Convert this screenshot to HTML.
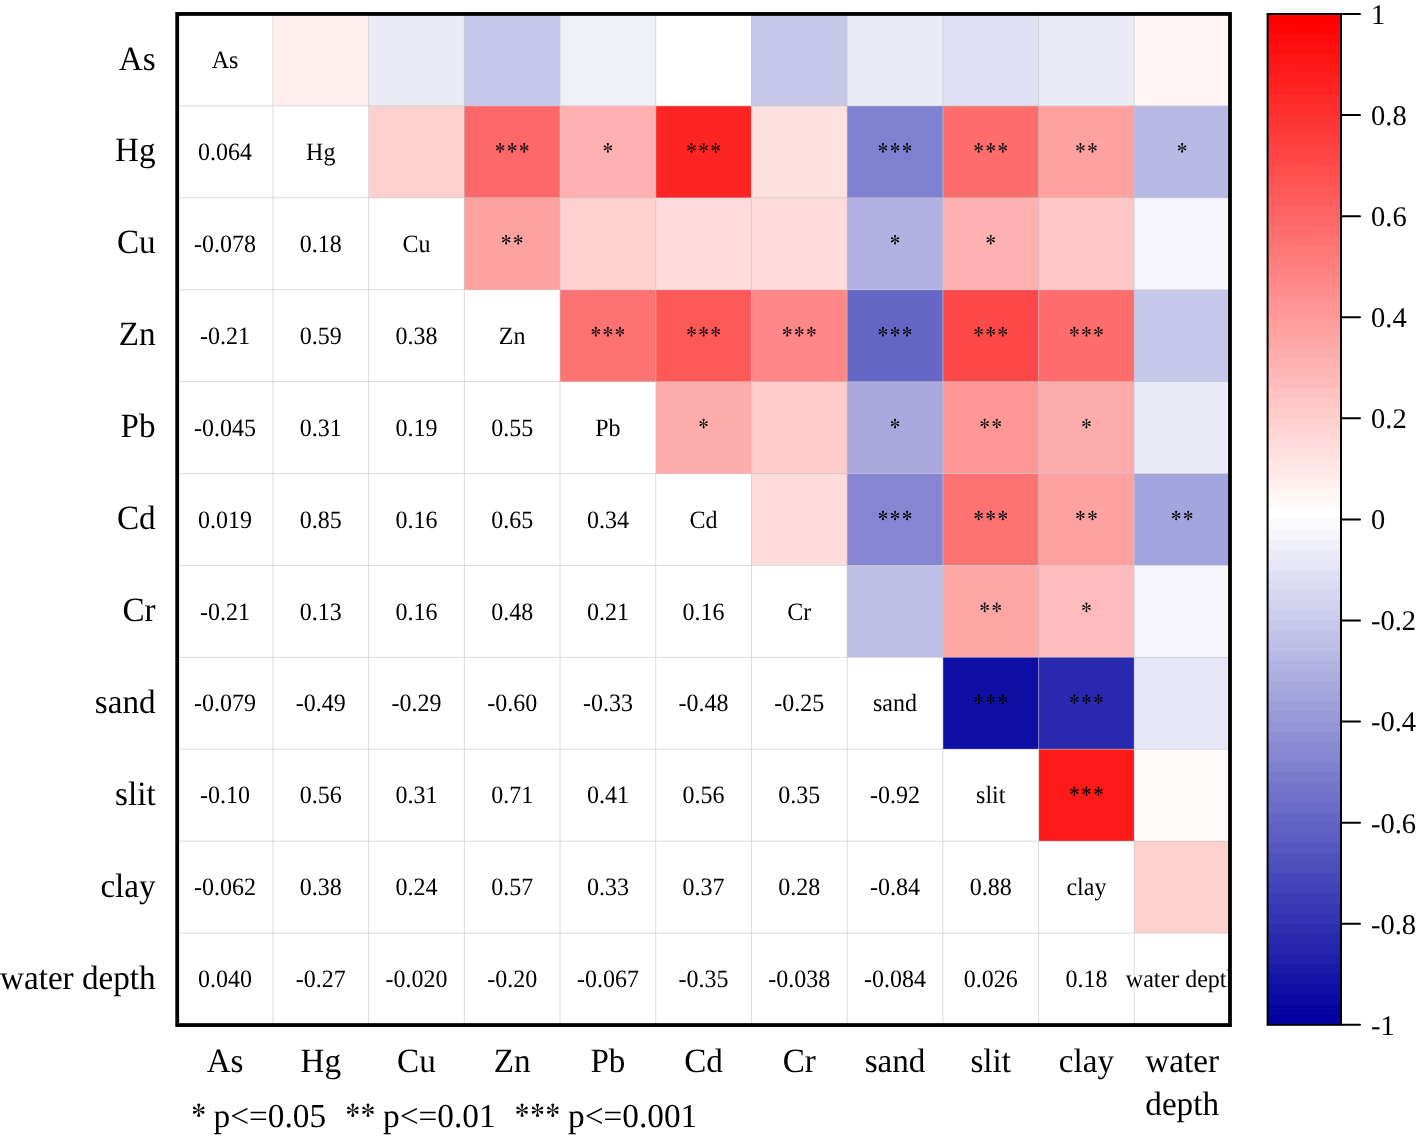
<!DOCTYPE html>
<html><head><meta charset="utf-8"><style>
html,body{margin:0;padding:0;background:#fff;}
body{width:1417px;height:1137px;overflow:hidden;}
svg{display:block;}
text{font-family:"Liberation Serif", serif;fill:#000;text-rendering:geometricPrecision;}
#wrap{position:absolute;left:0;top:0;will-change:transform;}
</style></head><body>
<div id="wrap"><svg width="1417" height="1137" viewBox="0 0 1417 1137">
<defs><g id="arm"><path d="M 3.5,0 C 6,-30 13,-52 19,-70 A 20.5 20.5 0 1 0 -19,-70 C -13,-52 -6,-30 -3.5,0 Z"/></g>
<g id="ast"><use href="#arm"/><use href="#arm" transform="rotate(180)"/><use href="#arm" transform="rotate(64) scale(0.93)"/><use href="#arm" transform="rotate(116) scale(0.93)"/><use href="#arm" transform="rotate(-64) scale(0.93)"/><use href="#arm" transform="rotate(-116) scale(0.93)"/><circle r="6"/></g>
<clipPath id="pc"><rect x="177.20" y="13.95" width="1052.80" height="1011.10"/></clipPath></defs>

<g shape-rendering="crispEdges">
<rect x="272.91" y="13.95" width="95.71" height="91.92" fill="#ffefef"/>
<rect x="368.62" y="13.95" width="95.71" height="91.92" fill="#ebebf7"/>
<rect x="464.33" y="13.95" width="95.71" height="91.92" fill="#c7c7ea"/>
<rect x="560.04" y="13.95" width="95.71" height="91.92" fill="#f0f0f9"/>
<rect x="655.75" y="13.95" width="95.71" height="91.92" fill="#ffffff"/>
<rect x="751.45" y="13.95" width="95.71" height="91.92" fill="#c7c7ea"/>
<rect x="847.16" y="13.95" width="95.71" height="91.92" fill="#ebebf7"/>
<rect x="942.87" y="13.95" width="95.71" height="91.92" fill="#e0e0f4"/>
<rect x="1038.58" y="13.95" width="95.71" height="91.92" fill="#ebebf7"/>
<rect x="1134.29" y="13.95" width="95.71" height="91.92" fill="#fff5f5"/>
<rect x="368.62" y="105.87" width="95.71" height="91.92" fill="#ffd0d0"/>
<rect x="464.33" y="105.87" width="95.71" height="91.92" fill="#ff6868"/>
<rect x="560.04" y="105.87" width="95.71" height="91.92" fill="#ffb1b1"/>
<rect x="655.75" y="105.87" width="95.71" height="91.92" fill="#ff2424"/>
<rect x="751.45" y="105.87" width="95.71" height="91.92" fill="#ffe0e0"/>
<rect x="847.16" y="105.87" width="95.71" height="91.92" fill="#8080d0"/>
<rect x="942.87" y="105.87" width="95.71" height="91.92" fill="#ff6d6d"/>
<rect x="1038.58" y="105.87" width="95.71" height="91.92" fill="#ffa1a1"/>
<rect x="1134.29" y="105.87" width="95.71" height="91.92" fill="#b8b8e4"/>
<rect x="464.33" y="197.79" width="95.71" height="91.92" fill="#ffa1a1"/>
<rect x="560.04" y="197.79" width="95.71" height="91.92" fill="#ffd0d0"/>
<rect x="655.75" y="197.79" width="95.71" height="91.92" fill="#ffdbdb"/>
<rect x="751.45" y="197.79" width="95.71" height="91.92" fill="#ffdbdb"/>
<rect x="847.16" y="197.79" width="95.71" height="91.92" fill="#b2b2e2"/>
<rect x="942.87" y="197.79" width="95.71" height="91.92" fill="#ffb1b1"/>
<rect x="1038.58" y="197.79" width="95.71" height="91.92" fill="#ffc6c6"/>
<rect x="1134.29" y="197.79" width="95.71" height="91.92" fill="#f5f5fb"/>
<rect x="560.04" y="289.70" width="95.71" height="91.92" fill="#ff7272"/>
<rect x="655.75" y="289.70" width="95.71" height="91.92" fill="#ff5858"/>
<rect x="751.45" y="289.70" width="95.71" height="91.92" fill="#ff8787"/>
<rect x="847.16" y="289.70" width="95.71" height="91.92" fill="#6666c6"/>
<rect x="942.87" y="289.70" width="95.71" height="91.92" fill="#ff4949"/>
<rect x="1038.58" y="289.70" width="95.71" height="91.92" fill="#ff6d6d"/>
<rect x="1134.29" y="289.70" width="95.71" height="91.92" fill="#c7c7ea"/>
<rect x="655.75" y="381.62" width="95.71" height="91.92" fill="#ffacac"/>
<rect x="751.45" y="381.62" width="95.71" height="91.92" fill="#ffcbcb"/>
<rect x="847.16" y="381.62" width="95.71" height="91.92" fill="#a8a8df"/>
<rect x="942.87" y="381.62" width="95.71" height="91.92" fill="#ff9797"/>
<rect x="1038.58" y="381.62" width="95.71" height="91.92" fill="#ffacac"/>
<rect x="1134.29" y="381.62" width="95.71" height="91.92" fill="#ebebf7"/>
<rect x="751.45" y="473.54" width="95.71" height="91.92" fill="#ffdbdb"/>
<rect x="847.16" y="473.54" width="95.71" height="91.92" fill="#8585d1"/>
<rect x="942.87" y="473.54" width="95.71" height="91.92" fill="#ff7272"/>
<rect x="1038.58" y="473.54" width="95.71" height="91.92" fill="#ffa1a1"/>
<rect x="1134.29" y="473.54" width="95.71" height="91.92" fill="#a3a3dd"/>
<rect x="847.16" y="565.46" width="95.71" height="91.92" fill="#bdbde6"/>
<rect x="942.87" y="565.46" width="95.71" height="91.92" fill="#ffa7a7"/>
<rect x="1038.58" y="565.46" width="95.71" height="91.92" fill="#ffbbbb"/>
<rect x="1134.29" y="565.46" width="95.71" height="91.92" fill="#f5f5fb"/>
<rect x="942.87" y="657.38" width="95.71" height="91.92" fill="#0f0fa6"/>
<rect x="1038.58" y="657.38" width="95.71" height="91.92" fill="#2929af"/>
<rect x="1134.29" y="657.38" width="95.71" height="91.92" fill="#e6e6f6"/>
<rect x="1038.58" y="749.30" width="95.71" height="91.92" fill="#ff1a1a"/>
<rect x="1134.29" y="749.30" width="95.71" height="91.92" fill="#fffafa"/>
<rect x="1134.29" y="841.21" width="95.71" height="91.92" fill="#ffd0d0"/>
</g>
<line x1="272.91" y1="13.95" x2="272.91" y2="1025.05" stroke="#c8c8c8" stroke-width="1" stroke-opacity="0.65"/>
<line x1="177.20" y1="105.87" x2="1230.00" y2="105.87" stroke="#c8c8c8" stroke-width="1" stroke-opacity="0.65"/>
<line x1="368.62" y1="13.95" x2="368.62" y2="1025.05" stroke="#c8c8c8" stroke-width="1" stroke-opacity="0.65"/>
<line x1="177.20" y1="197.79" x2="1230.00" y2="197.79" stroke="#c8c8c8" stroke-width="1" stroke-opacity="0.65"/>
<line x1="464.33" y1="13.95" x2="464.33" y2="1025.05" stroke="#c8c8c8" stroke-width="1" stroke-opacity="0.65"/>
<line x1="177.20" y1="289.70" x2="1230.00" y2="289.70" stroke="#c8c8c8" stroke-width="1" stroke-opacity="0.65"/>
<line x1="560.04" y1="13.95" x2="560.04" y2="1025.05" stroke="#c8c8c8" stroke-width="1" stroke-opacity="0.65"/>
<line x1="177.20" y1="381.62" x2="1230.00" y2="381.62" stroke="#c8c8c8" stroke-width="1" stroke-opacity="0.65"/>
<line x1="655.75" y1="13.95" x2="655.75" y2="1025.05" stroke="#c8c8c8" stroke-width="1" stroke-opacity="0.65"/>
<line x1="177.20" y1="473.54" x2="1230.00" y2="473.54" stroke="#c8c8c8" stroke-width="1" stroke-opacity="0.65"/>
<line x1="751.45" y1="13.95" x2="751.45" y2="1025.05" stroke="#c8c8c8" stroke-width="1" stroke-opacity="0.65"/>
<line x1="177.20" y1="565.46" x2="1230.00" y2="565.46" stroke="#c8c8c8" stroke-width="1" stroke-opacity="0.65"/>
<line x1="847.16" y1="13.95" x2="847.16" y2="1025.05" stroke="#c8c8c8" stroke-width="1" stroke-opacity="0.65"/>
<line x1="177.20" y1="657.38" x2="1230.00" y2="657.38" stroke="#c8c8c8" stroke-width="1" stroke-opacity="0.65"/>
<line x1="942.87" y1="13.95" x2="942.87" y2="1025.05" stroke="#c8c8c8" stroke-width="1" stroke-opacity="0.65"/>
<line x1="177.20" y1="749.30" x2="1230.00" y2="749.30" stroke="#c8c8c8" stroke-width="1" stroke-opacity="0.65"/>
<line x1="1038.58" y1="13.95" x2="1038.58" y2="1025.05" stroke="#c8c8c8" stroke-width="1" stroke-opacity="0.65"/>
<line x1="177.20" y1="841.21" x2="1230.00" y2="841.21" stroke="#c8c8c8" stroke-width="1" stroke-opacity="0.65"/>
<line x1="1134.29" y1="13.95" x2="1134.29" y2="1025.05" stroke="#c8c8c8" stroke-width="1" stroke-opacity="0.65"/>
<line x1="177.20" y1="933.13" x2="1230.00" y2="933.13" stroke="#c8c8c8" stroke-width="1" stroke-opacity="0.65"/>
<g clip-path="url(#pc)">
<text transform="translate(225.05,68.01) scale(0.96,1)" font-size="25" text-anchor="middle">As</text>
<text transform="translate(225.05,159.93) scale(0.96,1)" font-size="25" text-anchor="middle">0.064</text>
<text transform="translate(320.76,159.93) scale(0.96,1)" font-size="25" text-anchor="middle">Hg</text>
<use href="#ast" transform="translate(500.11,147.83) scale(0.0495)"/>
<use href="#ast" transform="translate(512.18,147.83) scale(0.0495)"/>
<use href="#ast" transform="translate(524.25,147.83) scale(0.0495)"/>
<use href="#ast" transform="translate(607.89,147.83) scale(0.0495)"/>
<use href="#ast" transform="translate(691.53,147.83) scale(0.0495)"/>
<use href="#ast" transform="translate(703.60,147.83) scale(0.0495)"/>
<use href="#ast" transform="translate(715.67,147.83) scale(0.0495)"/>
<use href="#ast" transform="translate(882.95,147.83) scale(0.0495)"/>
<use href="#ast" transform="translate(895.02,147.83) scale(0.0495)"/>
<use href="#ast" transform="translate(907.09,147.83) scale(0.0495)"/>
<use href="#ast" transform="translate(978.66,147.83) scale(0.0495)"/>
<use href="#ast" transform="translate(990.73,147.83) scale(0.0495)"/>
<use href="#ast" transform="translate(1002.80,147.83) scale(0.0495)"/>
<use href="#ast" transform="translate(1080.40,147.83) scale(0.0495)"/>
<use href="#ast" transform="translate(1092.47,147.83) scale(0.0495)"/>
<use href="#ast" transform="translate(1182.15,147.83) scale(0.0495)"/>
<text transform="translate(225.05,251.85) scale(0.96,1)" font-size="25" text-anchor="middle">-0.078</text>
<text transform="translate(320.76,251.85) scale(0.96,1)" font-size="25" text-anchor="middle">0.18</text>
<text transform="translate(416.47,251.85) scale(0.96,1)" font-size="25" text-anchor="middle">Cu</text>
<use href="#ast" transform="translate(506.15,239.75) scale(0.0495)"/>
<use href="#ast" transform="translate(518.22,239.75) scale(0.0495)"/>
<use href="#ast" transform="translate(895.02,239.75) scale(0.0495)"/>
<use href="#ast" transform="translate(990.73,239.75) scale(0.0495)"/>
<text transform="translate(225.05,343.76) scale(0.96,1)" font-size="25" text-anchor="middle">-0.21</text>
<text transform="translate(320.76,343.76) scale(0.96,1)" font-size="25" text-anchor="middle">0.59</text>
<text transform="translate(416.47,343.76) scale(0.96,1)" font-size="25" text-anchor="middle">0.38</text>
<text transform="translate(512.18,343.76) scale(0.96,1)" font-size="25" text-anchor="middle">Zn</text>
<use href="#ast" transform="translate(595.82,331.66) scale(0.0495)"/>
<use href="#ast" transform="translate(607.89,331.66) scale(0.0495)"/>
<use href="#ast" transform="translate(619.96,331.66) scale(0.0495)"/>
<use href="#ast" transform="translate(691.53,331.66) scale(0.0495)"/>
<use href="#ast" transform="translate(703.60,331.66) scale(0.0495)"/>
<use href="#ast" transform="translate(715.67,331.66) scale(0.0495)"/>
<use href="#ast" transform="translate(787.24,331.66) scale(0.0495)"/>
<use href="#ast" transform="translate(799.31,331.66) scale(0.0495)"/>
<use href="#ast" transform="translate(811.38,331.66) scale(0.0495)"/>
<use href="#ast" transform="translate(882.95,331.66) scale(0.0495)"/>
<use href="#ast" transform="translate(895.02,331.66) scale(0.0495)"/>
<use href="#ast" transform="translate(907.09,331.66) scale(0.0495)"/>
<use href="#ast" transform="translate(978.66,331.66) scale(0.0495)"/>
<use href="#ast" transform="translate(990.73,331.66) scale(0.0495)"/>
<use href="#ast" transform="translate(1002.80,331.66) scale(0.0495)"/>
<use href="#ast" transform="translate(1074.37,331.66) scale(0.0495)"/>
<use href="#ast" transform="translate(1086.44,331.66) scale(0.0495)"/>
<use href="#ast" transform="translate(1098.51,331.66) scale(0.0495)"/>
<text transform="translate(225.05,435.68) scale(0.96,1)" font-size="25" text-anchor="middle">-0.045</text>
<text transform="translate(320.76,435.68) scale(0.96,1)" font-size="25" text-anchor="middle">0.31</text>
<text transform="translate(416.47,435.68) scale(0.96,1)" font-size="25" text-anchor="middle">0.19</text>
<text transform="translate(512.18,435.68) scale(0.96,1)" font-size="25" text-anchor="middle">0.55</text>
<text transform="translate(607.89,435.68) scale(0.96,1)" font-size="25" text-anchor="middle">Pb</text>
<use href="#ast" transform="translate(703.60,423.58) scale(0.0495)"/>
<use href="#ast" transform="translate(895.02,423.58) scale(0.0495)"/>
<use href="#ast" transform="translate(984.69,423.58) scale(0.0495)"/>
<use href="#ast" transform="translate(996.76,423.58) scale(0.0495)"/>
<use href="#ast" transform="translate(1086.44,423.58) scale(0.0495)"/>
<text transform="translate(225.05,527.60) scale(0.96,1)" font-size="25" text-anchor="middle">0.019</text>
<text transform="translate(320.76,527.60) scale(0.96,1)" font-size="25" text-anchor="middle">0.85</text>
<text transform="translate(416.47,527.60) scale(0.96,1)" font-size="25" text-anchor="middle">0.16</text>
<text transform="translate(512.18,527.60) scale(0.96,1)" font-size="25" text-anchor="middle">0.65</text>
<text transform="translate(607.89,527.60) scale(0.96,1)" font-size="25" text-anchor="middle">0.34</text>
<text transform="translate(703.60,527.60) scale(0.96,1)" font-size="25" text-anchor="middle">Cd</text>
<use href="#ast" transform="translate(882.95,515.50) scale(0.0495)"/>
<use href="#ast" transform="translate(895.02,515.50) scale(0.0495)"/>
<use href="#ast" transform="translate(907.09,515.50) scale(0.0495)"/>
<use href="#ast" transform="translate(978.66,515.50) scale(0.0495)"/>
<use href="#ast" transform="translate(990.73,515.50) scale(0.0495)"/>
<use href="#ast" transform="translate(1002.80,515.50) scale(0.0495)"/>
<use href="#ast" transform="translate(1080.40,515.50) scale(0.0495)"/>
<use href="#ast" transform="translate(1092.47,515.50) scale(0.0495)"/>
<use href="#ast" transform="translate(1176.11,515.50) scale(0.0495)"/>
<use href="#ast" transform="translate(1188.18,515.50) scale(0.0495)"/>
<text transform="translate(225.05,619.52) scale(0.96,1)" font-size="25" text-anchor="middle">-0.21</text>
<text transform="translate(320.76,619.52) scale(0.96,1)" font-size="25" text-anchor="middle">0.13</text>
<text transform="translate(416.47,619.52) scale(0.96,1)" font-size="25" text-anchor="middle">0.16</text>
<text transform="translate(512.18,619.52) scale(0.96,1)" font-size="25" text-anchor="middle">0.48</text>
<text transform="translate(607.89,619.52) scale(0.96,1)" font-size="25" text-anchor="middle">0.21</text>
<text transform="translate(703.60,619.52) scale(0.96,1)" font-size="25" text-anchor="middle">0.16</text>
<text transform="translate(799.31,619.52) scale(0.96,1)" font-size="25" text-anchor="middle">Cr</text>
<use href="#ast" transform="translate(984.69,607.42) scale(0.0495)"/>
<use href="#ast" transform="translate(996.76,607.42) scale(0.0495)"/>
<use href="#ast" transform="translate(1086.44,607.42) scale(0.0495)"/>
<text transform="translate(225.05,711.44) scale(0.96,1)" font-size="25" text-anchor="middle">-0.079</text>
<text transform="translate(320.76,711.44) scale(0.96,1)" font-size="25" text-anchor="middle">-0.49</text>
<text transform="translate(416.47,711.44) scale(0.96,1)" font-size="25" text-anchor="middle">-0.29</text>
<text transform="translate(512.18,711.44) scale(0.96,1)" font-size="25" text-anchor="middle">-0.60</text>
<text transform="translate(607.89,711.44) scale(0.96,1)" font-size="25" text-anchor="middle">-0.33</text>
<text transform="translate(703.60,711.44) scale(0.96,1)" font-size="25" text-anchor="middle">-0.48</text>
<text transform="translate(799.31,711.44) scale(0.96,1)" font-size="25" text-anchor="middle">-0.25</text>
<text transform="translate(895.02,711.44) scale(0.96,1)" font-size="25" text-anchor="middle">sand</text>
<use href="#ast" transform="translate(978.66,699.34) scale(0.0495)"/>
<use href="#ast" transform="translate(990.73,699.34) scale(0.0495)"/>
<use href="#ast" transform="translate(1002.80,699.34) scale(0.0495)"/>
<use href="#ast" transform="translate(1074.37,699.34) scale(0.0495)"/>
<use href="#ast" transform="translate(1086.44,699.34) scale(0.0495)"/>
<use href="#ast" transform="translate(1098.51,699.34) scale(0.0495)"/>
<text transform="translate(225.05,803.35) scale(0.96,1)" font-size="25" text-anchor="middle">-0.10</text>
<text transform="translate(320.76,803.35) scale(0.96,1)" font-size="25" text-anchor="middle">0.56</text>
<text transform="translate(416.47,803.35) scale(0.96,1)" font-size="25" text-anchor="middle">0.31</text>
<text transform="translate(512.18,803.35) scale(0.96,1)" font-size="25" text-anchor="middle">0.71</text>
<text transform="translate(607.89,803.35) scale(0.96,1)" font-size="25" text-anchor="middle">0.41</text>
<text transform="translate(703.60,803.35) scale(0.96,1)" font-size="25" text-anchor="middle">0.56</text>
<text transform="translate(799.31,803.35) scale(0.96,1)" font-size="25" text-anchor="middle">0.35</text>
<text transform="translate(895.02,803.35) scale(0.96,1)" font-size="25" text-anchor="middle">-0.92</text>
<text transform="translate(990.73,803.35) scale(0.96,1)" font-size="25" text-anchor="middle">slit</text>
<use href="#ast" transform="translate(1074.37,791.25) scale(0.0495)"/>
<use href="#ast" transform="translate(1086.44,791.25) scale(0.0495)"/>
<use href="#ast" transform="translate(1098.51,791.25) scale(0.0495)"/>
<text transform="translate(225.05,895.27) scale(0.96,1)" font-size="25" text-anchor="middle">-0.062</text>
<text transform="translate(320.76,895.27) scale(0.96,1)" font-size="25" text-anchor="middle">0.38</text>
<text transform="translate(416.47,895.27) scale(0.96,1)" font-size="25" text-anchor="middle">0.24</text>
<text transform="translate(512.18,895.27) scale(0.96,1)" font-size="25" text-anchor="middle">0.57</text>
<text transform="translate(607.89,895.27) scale(0.96,1)" font-size="25" text-anchor="middle">0.33</text>
<text transform="translate(703.60,895.27) scale(0.96,1)" font-size="25" text-anchor="middle">0.37</text>
<text transform="translate(799.31,895.27) scale(0.96,1)" font-size="25" text-anchor="middle">0.28</text>
<text transform="translate(895.02,895.27) scale(0.96,1)" font-size="25" text-anchor="middle">-0.84</text>
<text transform="translate(990.73,895.27) scale(0.96,1)" font-size="25" text-anchor="middle">0.88</text>
<text transform="translate(1086.44,895.27) scale(0.96,1)" font-size="25" text-anchor="middle">clay</text>
<text transform="translate(225.05,987.19) scale(0.96,1)" font-size="25" text-anchor="middle">0.040</text>
<text transform="translate(320.76,987.19) scale(0.96,1)" font-size="25" text-anchor="middle">-0.27</text>
<text transform="translate(416.47,987.19) scale(0.96,1)" font-size="25" text-anchor="middle">-0.020</text>
<text transform="translate(512.18,987.19) scale(0.96,1)" font-size="25" text-anchor="middle">-0.20</text>
<text transform="translate(607.89,987.19) scale(0.96,1)" font-size="25" text-anchor="middle">-0.067</text>
<text transform="translate(703.60,987.19) scale(0.96,1)" font-size="25" text-anchor="middle">-0.35</text>
<text transform="translate(799.31,987.19) scale(0.96,1)" font-size="25" text-anchor="middle">-0.038</text>
<text transform="translate(895.02,987.19) scale(0.96,1)" font-size="25" text-anchor="middle">-0.084</text>
<text transform="translate(990.73,987.19) scale(0.96,1)" font-size="25" text-anchor="middle">0.026</text>
<text transform="translate(1086.44,987.19) scale(0.96,1)" font-size="25" text-anchor="middle">0.18</text>
<text transform="translate(1182.15,987.19) scale(0.96,1)" font-size="25" text-anchor="middle">water depth</text>
</g>
<rect x="177.20" y="13.95" width="1052.80" height="1011.10" fill="none" stroke="#000" stroke-width="3.8"/>
<g>
<text transform="translate(155.60,69.50) scale(0.975,1)" font-size="34" text-anchor="end">As</text>
<text transform="translate(155.60,161.42) scale(0.975,1)" font-size="34" text-anchor="end">Hg</text>
<text transform="translate(155.60,253.34) scale(0.975,1)" font-size="34" text-anchor="end">Cu</text>
<text transform="translate(155.60,345.25) scale(0.975,1)" font-size="34" text-anchor="end">Zn</text>
<text transform="translate(155.60,437.17) scale(0.975,1)" font-size="34" text-anchor="end">Pb</text>
<text transform="translate(155.60,529.09) scale(0.975,1)" font-size="34" text-anchor="end">Cd</text>
<text transform="translate(155.60,621.01) scale(0.975,1)" font-size="34" text-anchor="end">Cr</text>
<text transform="translate(155.60,712.93) scale(0.975,1)" font-size="34" text-anchor="end">sand</text>
<text transform="translate(155.60,804.85) scale(0.975,1)" font-size="34" text-anchor="end">slit</text>
<text transform="translate(155.60,896.76) scale(0.975,1)" font-size="34" text-anchor="end">clay</text>
<text transform="translate(155.60,988.68) scale(0.975,1)" font-size="34" text-anchor="end">water depth</text>
</g>
<g>
<text transform="translate(225.05,1072.20) scale(0.975,1)" font-size="34" text-anchor="middle">As</text>
<text transform="translate(320.76,1072.20) scale(0.975,1)" font-size="34" text-anchor="middle">Hg</text>
<text transform="translate(416.47,1072.20) scale(0.975,1)" font-size="34" text-anchor="middle">Cu</text>
<text transform="translate(512.18,1072.20) scale(0.975,1)" font-size="34" text-anchor="middle">Zn</text>
<text transform="translate(607.89,1072.20) scale(0.975,1)" font-size="34" text-anchor="middle">Pb</text>
<text transform="translate(703.60,1072.20) scale(0.975,1)" font-size="34" text-anchor="middle">Cd</text>
<text transform="translate(799.31,1072.20) scale(0.975,1)" font-size="34" text-anchor="middle">Cr</text>
<text transform="translate(895.02,1072.20) scale(0.975,1)" font-size="34" text-anchor="middle">sand</text>
<text transform="translate(990.73,1072.20) scale(0.975,1)" font-size="34" text-anchor="middle">slit</text>
<text transform="translate(1086.44,1072.20) scale(0.975,1)" font-size="34" text-anchor="middle">clay</text>
<text transform="translate(1182.15,1072.20) scale(0.975,1)" font-size="34" text-anchor="middle">water</text>
<text transform="translate(1182.15,1114.50) scale(0.975,1)" font-size="34" text-anchor="middle">depth</text>
</g>
<g shape-rendering="crispEdges">
<rect x="1267.60" y="14.00" width="73.40" height="10.41" fill="#ff0000"/>
<rect x="1267.60" y="24.11" width="73.40" height="10.41" fill="#ff0505"/>
<rect x="1267.60" y="34.22" width="73.40" height="10.41" fill="#ff0a0a"/>
<rect x="1267.60" y="44.32" width="73.40" height="10.41" fill="#ff1010"/>
<rect x="1267.60" y="54.43" width="73.40" height="10.41" fill="#ff1515"/>
<rect x="1267.60" y="64.54" width="73.40" height="10.41" fill="#ff1a1a"/>
<rect x="1267.60" y="74.65" width="73.40" height="10.41" fill="#ff1f1f"/>
<rect x="1267.60" y="84.76" width="73.40" height="10.41" fill="#ff2424"/>
<rect x="1267.60" y="94.86" width="73.40" height="10.41" fill="#ff2a2a"/>
<rect x="1267.60" y="104.97" width="73.40" height="10.41" fill="#ff2f2f"/>
<rect x="1267.60" y="115.08" width="73.40" height="10.41" fill="#ff3434"/>
<rect x="1267.60" y="125.19" width="73.40" height="10.41" fill="#ff3939"/>
<rect x="1267.60" y="135.30" width="73.40" height="10.41" fill="#ff3e3e"/>
<rect x="1267.60" y="145.40" width="73.40" height="10.41" fill="#ff4444"/>
<rect x="1267.60" y="155.51" width="73.40" height="10.41" fill="#ff4949"/>
<rect x="1267.60" y="165.62" width="73.40" height="10.41" fill="#ff4e4e"/>
<rect x="1267.60" y="175.73" width="73.40" height="10.41" fill="#ff5353"/>
<rect x="1267.60" y="185.84" width="73.40" height="10.41" fill="#ff5858"/>
<rect x="1267.60" y="195.94" width="73.40" height="10.41" fill="#ff5e5e"/>
<rect x="1267.60" y="206.05" width="73.40" height="10.41" fill="#ff6363"/>
<rect x="1267.60" y="216.16" width="73.40" height="10.41" fill="#ff6868"/>
<rect x="1267.60" y="226.27" width="73.40" height="10.41" fill="#ff6d6d"/>
<rect x="1267.60" y="236.38" width="73.40" height="10.41" fill="#ff7272"/>
<rect x="1267.60" y="246.48" width="73.40" height="10.41" fill="#ff7878"/>
<rect x="1267.60" y="256.59" width="73.40" height="10.41" fill="#ff7d7d"/>
<rect x="1267.60" y="266.70" width="73.40" height="10.41" fill="#ff8282"/>
<rect x="1267.60" y="276.81" width="73.40" height="10.41" fill="#ff8787"/>
<rect x="1267.60" y="286.92" width="73.40" height="10.41" fill="#ff8d8d"/>
<rect x="1267.60" y="297.02" width="73.40" height="10.41" fill="#ff9292"/>
<rect x="1267.60" y="307.13" width="73.40" height="10.41" fill="#ff9797"/>
<rect x="1267.60" y="317.24" width="73.40" height="10.41" fill="#ff9c9c"/>
<rect x="1267.60" y="327.35" width="73.40" height="10.41" fill="#ffa1a1"/>
<rect x="1267.60" y="337.46" width="73.40" height="10.41" fill="#ffa7a7"/>
<rect x="1267.60" y="347.56" width="73.40" height="10.41" fill="#ffacac"/>
<rect x="1267.60" y="357.67" width="73.40" height="10.41" fill="#ffb1b1"/>
<rect x="1267.60" y="367.78" width="73.40" height="10.41" fill="#ffb6b6"/>
<rect x="1267.60" y="377.89" width="73.40" height="10.41" fill="#ffbbbb"/>
<rect x="1267.60" y="388.00" width="73.40" height="10.41" fill="#ffc1c1"/>
<rect x="1267.60" y="398.10" width="73.40" height="10.41" fill="#ffc6c6"/>
<rect x="1267.60" y="408.21" width="73.40" height="10.41" fill="#ffcbcb"/>
<rect x="1267.60" y="418.32" width="73.40" height="10.41" fill="#ffd0d0"/>
<rect x="1267.60" y="428.43" width="73.40" height="10.41" fill="#ffd5d5"/>
<rect x="1267.60" y="438.54" width="73.40" height="10.41" fill="#ffdbdb"/>
<rect x="1267.60" y="448.64" width="73.40" height="10.41" fill="#ffe0e0"/>
<rect x="1267.60" y="458.75" width="73.40" height="10.41" fill="#ffe5e5"/>
<rect x="1267.60" y="468.86" width="73.40" height="10.41" fill="#ffeaea"/>
<rect x="1267.60" y="478.97" width="73.40" height="10.41" fill="#ffefef"/>
<rect x="1267.60" y="489.08" width="73.40" height="10.41" fill="#fff5f5"/>
<rect x="1267.60" y="499.18" width="73.40" height="10.41" fill="#fffafa"/>
<rect x="1267.60" y="509.29" width="73.40" height="10.41" fill="#ffffff"/>
<rect x="1267.60" y="519.40" width="73.40" height="10.41" fill="#fafafd"/>
<rect x="1267.60" y="529.51" width="73.40" height="10.41" fill="#f5f5fb"/>
<rect x="1267.60" y="539.62" width="73.40" height="10.41" fill="#f0f0f9"/>
<rect x="1267.60" y="549.72" width="73.40" height="10.41" fill="#ebebf7"/>
<rect x="1267.60" y="559.83" width="73.40" height="10.41" fill="#e6e6f6"/>
<rect x="1267.60" y="569.94" width="73.40" height="10.41" fill="#e0e0f4"/>
<rect x="1267.60" y="580.05" width="73.40" height="10.41" fill="#dbdbf2"/>
<rect x="1267.60" y="590.16" width="73.40" height="10.41" fill="#d6d6f0"/>
<rect x="1267.60" y="600.26" width="73.40" height="10.41" fill="#d1d1ee"/>
<rect x="1267.60" y="610.37" width="73.40" height="10.41" fill="#ccccec"/>
<rect x="1267.60" y="620.48" width="73.40" height="10.41" fill="#c7c7ea"/>
<rect x="1267.60" y="630.59" width="73.40" height="10.41" fill="#c2c2e8"/>
<rect x="1267.60" y="640.70" width="73.40" height="10.41" fill="#bdbde6"/>
<rect x="1267.60" y="650.80" width="73.40" height="10.41" fill="#b8b8e4"/>
<rect x="1267.60" y="660.91" width="73.40" height="10.41" fill="#b2b2e2"/>
<rect x="1267.60" y="671.02" width="73.40" height="10.41" fill="#adade1"/>
<rect x="1267.60" y="681.13" width="73.40" height="10.41" fill="#a8a8df"/>
<rect x="1267.60" y="691.24" width="73.40" height="10.41" fill="#a3a3dd"/>
<rect x="1267.60" y="701.34" width="73.40" height="10.41" fill="#9e9edb"/>
<rect x="1267.60" y="711.45" width="73.40" height="10.41" fill="#9999d9"/>
<rect x="1267.60" y="721.56" width="73.40" height="10.41" fill="#9494d7"/>
<rect x="1267.60" y="731.67" width="73.40" height="10.41" fill="#8f8fd5"/>
<rect x="1267.60" y="741.78" width="73.40" height="10.41" fill="#8a8ad3"/>
<rect x="1267.60" y="751.88" width="73.40" height="10.41" fill="#8585d1"/>
<rect x="1267.60" y="761.99" width="73.40" height="10.41" fill="#8080d0"/>
<rect x="1267.60" y="772.10" width="73.40" height="10.41" fill="#7a7ace"/>
<rect x="1267.60" y="782.21" width="73.40" height="10.41" fill="#7575cc"/>
<rect x="1267.60" y="792.32" width="73.40" height="10.41" fill="#7070ca"/>
<rect x="1267.60" y="802.42" width="73.40" height="10.41" fill="#6b6bc8"/>
<rect x="1267.60" y="812.53" width="73.40" height="10.41" fill="#6666c6"/>
<rect x="1267.60" y="822.64" width="73.40" height="10.41" fill="#6161c4"/>
<rect x="1267.60" y="832.75" width="73.40" height="10.41" fill="#5c5cc2"/>
<rect x="1267.60" y="842.86" width="73.40" height="10.41" fill="#5757c0"/>
<rect x="1267.60" y="852.96" width="73.40" height="10.41" fill="#5252be"/>
<rect x="1267.60" y="863.07" width="73.40" height="10.41" fill="#4d4dbc"/>
<rect x="1267.60" y="873.18" width="73.40" height="10.41" fill="#4747bb"/>
<rect x="1267.60" y="883.29" width="73.40" height="10.41" fill="#4242b9"/>
<rect x="1267.60" y="893.40" width="73.40" height="10.41" fill="#3d3db7"/>
<rect x="1267.60" y="903.50" width="73.40" height="10.41" fill="#3838b5"/>
<rect x="1267.60" y="913.61" width="73.40" height="10.41" fill="#3333b3"/>
<rect x="1267.60" y="923.72" width="73.40" height="10.41" fill="#2e2eb1"/>
<rect x="1267.60" y="933.83" width="73.40" height="10.41" fill="#2929af"/>
<rect x="1267.60" y="943.94" width="73.40" height="10.41" fill="#2424ad"/>
<rect x="1267.60" y="954.04" width="73.40" height="10.41" fill="#1f1fab"/>
<rect x="1267.60" y="964.15" width="73.40" height="10.41" fill="#1919aa"/>
<rect x="1267.60" y="974.26" width="73.40" height="10.41" fill="#1414a8"/>
<rect x="1267.60" y="984.37" width="73.40" height="10.41" fill="#0f0fa6"/>
<rect x="1267.60" y="994.48" width="73.40" height="10.41" fill="#0a0aa4"/>
<rect x="1267.60" y="1004.58" width="73.40" height="10.41" fill="#0505a2"/>
<rect x="1267.60" y="1014.69" width="73.40" height="10.41" fill="#0000a0"/>
</g>
<rect x="1267.60" y="14.00" width="73.40" height="1010.80" fill="none" stroke="#000" stroke-width="2"/>
<g>
<line x1="1341.00" y1="14.00" x2="1360" y2="14.00" stroke="#000" stroke-width="2" stroke-linecap="round"/>
<text x="1371.00" y="23.90" font-size="28.5">1</text>
<line x1="1341.00" y1="115.08" x2="1360" y2="115.08" stroke="#000" stroke-width="2" stroke-linecap="round"/>
<text x="1371.00" y="124.98" font-size="28.5">0.8</text>
<line x1="1341.00" y1="216.16" x2="1360" y2="216.16" stroke="#000" stroke-width="2" stroke-linecap="round"/>
<text x="1371.00" y="226.06" font-size="28.5">0.6</text>
<line x1="1341.00" y1="317.24" x2="1360" y2="317.24" stroke="#000" stroke-width="2" stroke-linecap="round"/>
<text x="1371.00" y="327.14" font-size="28.5">0.4</text>
<line x1="1341.00" y1="418.32" x2="1360" y2="418.32" stroke="#000" stroke-width="2" stroke-linecap="round"/>
<text x="1371.00" y="428.22" font-size="28.5">0.2</text>
<line x1="1341.00" y1="519.40" x2="1360" y2="519.40" stroke="#000" stroke-width="2" stroke-linecap="round"/>
<text x="1371.00" y="529.30" font-size="28.5">0</text>
<line x1="1341.00" y1="620.48" x2="1360" y2="620.48" stroke="#000" stroke-width="2" stroke-linecap="round"/>
<text x="1371.00" y="630.38" font-size="28.5">-0.2</text>
<line x1="1341.00" y1="721.56" x2="1360" y2="721.56" stroke="#000" stroke-width="2" stroke-linecap="round"/>
<text x="1371.00" y="731.46" font-size="28.5">-0.4</text>
<line x1="1341.00" y1="822.64" x2="1360" y2="822.64" stroke="#000" stroke-width="2" stroke-linecap="round"/>
<text x="1371.00" y="832.54" font-size="28.5">-0.6</text>
<line x1="1341.00" y1="923.72" x2="1360" y2="923.72" stroke="#000" stroke-width="2" stroke-linecap="round"/>
<text x="1371.00" y="933.62" font-size="28.5">-0.8</text>
<line x1="1341.00" y1="1024.80" x2="1360" y2="1024.80" stroke="#000" stroke-width="2" stroke-linecap="round"/>
<text x="1371.00" y="1034.70" font-size="28.5">-1</text>
</g>
<g>
<use href="#ast" transform="translate(198.75,1110.20) scale(0.0680)"/>
<use href="#ast" transform="translate(352.80,1110.20) scale(0.0680)"/>
<use href="#ast" transform="translate(368.00,1110.20) scale(0.0680)"/>
<use href="#ast" transform="translate(522.07,1110.20) scale(0.0680)"/>
<use href="#ast" transform="translate(537.50,1110.20) scale(0.0680)"/>
<use href="#ast" transform="translate(552.80,1110.20) scale(0.0680)"/>
<text transform="translate(213.60,1126.90) scale(0.995,1)" font-size="33.5">p&lt;=0.05</text>
<text transform="translate(383.00,1126.90) scale(0.995,1)" font-size="33.5">p&lt;=0.01</text>
<text transform="translate(568.00,1126.90) scale(0.995,1)" font-size="33.5">p&lt;=0.001</text>
</g>
</svg></div></body></html>
